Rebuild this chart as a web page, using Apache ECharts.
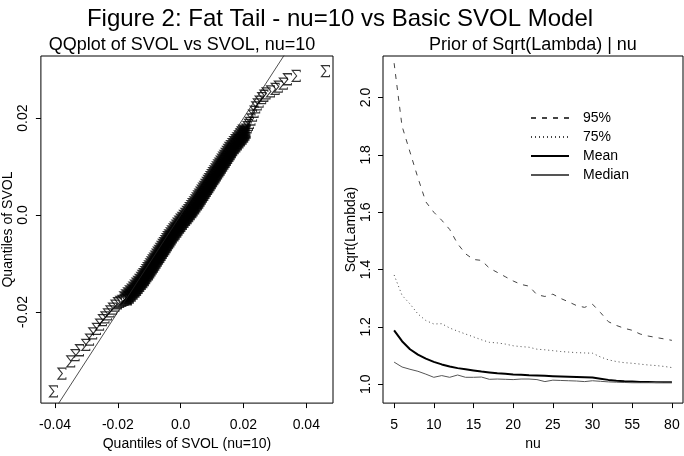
<!DOCTYPE html>
<html>
<head>
<meta charset="utf-8">
<script src="https://cdn.jsdelivr.net/npm/echarts@6/dist/echarts.min.js"></script>
<style>
html, body { margin: 0; padding: 0; background: #fff; }
#chart { width: 684px; height: 456px; }
</style>
</head>
<body>
<div id="chart"></div>
<script>
// left panel: sorted quantiles, SVOL nu=10 (x) vs basic SVOL (y)
const qqX = [
    -0.0405, -0.0378, -0.0350, -0.0336, -0.0322, -0.0302, -0.0290, -0.0280, -0.0268, -0.0258,
    -0.0249, -0.0241, -0.0233, -0.0225, -0.0217, -0.0209, -0.0201, -0.0194, -0.0187, -0.0180,
    -0.0174, -0.0168, -0.0162, -0.0156, -0.0150, -0.0145, -0.0140, -0.0135, -0.0130, -0.0125,
    -0.0120, -0.0116, -0.0112, -0.0107, -0.0103, -0.0099, -0.0095, -0.0091, -0.0087, -0.0083,
    -0.0079, -0.0075, -0.0071, -0.0067, -0.0063, -0.0059, -0.0055, -0.0051, -0.0047, -0.0043,
    -0.0039, -0.0035, -0.0031, -0.0026, -0.0022, -0.0017, -0.0013, -0.0008, -0.0004, 0.0001,
    0.0006, 0.0011, 0.0016, 0.0021, 0.0026, 0.0031, 0.0035, 0.0040, 0.0044, 0.0049,
    0.0053, 0.0057, 0.0061, 0.0065, 0.0069, 0.0073, 0.0077, 0.0081, 0.0085, 0.0089,
    0.0093, 0.0097, 0.0101, 0.0105, 0.0109, 0.0113, 0.0117, 0.0121, 0.0125, 0.0129,
    0.0133, 0.0137, 0.0141, 0.0145, 0.0149, 0.0153, 0.0157, 0.0161, 0.0166, 0.0171,
    0.0176, 0.0181, 0.0186, 0.0191, 0.0196, 0.0200, 0.0204,
    0.0208, 0.0212, 0.0216, 0.0219, 0.0224, 0.0229, 0.0234, 0.0239, 0.0244, 0.0250,
    0.0258, 0.0265, 0.0272, 0.0286, 0.0301, 0.0311, 0.0327, 0.0340, 0.0368, 0.0461
];
const qqY = [
    -0.0364, -0.0327, -0.0302, -0.0289, -0.0279, -0.0268, -0.0257, -0.0244, -0.0235, -0.0226,
    -0.0217, -0.0211, -0.0205, -0.0199, -0.0193, -0.0187, -0.0182, -0.0179, -0.0177, -0.0175,
    -0.0172, -0.0168, -0.0164, -0.0160, -0.0156, -0.0152, -0.0148, -0.0144, -0.0140, -0.0136,
    -0.0132, -0.0128, -0.0124, -0.0120, -0.0116, -0.0112, -0.0108, -0.0104, -0.0100, -0.0096,
    -0.0092, -0.0088, -0.0084, -0.0080, -0.0076, -0.0072, -0.0068, -0.0064, -0.0060, -0.0056,
    -0.0052, -0.0048, -0.0044, -0.0040, -0.0036, -0.0032, -0.0028, -0.0024, -0.0020, -0.0016,
    -0.0012, -0.0008, -0.0004, 0.0000, 0.0004, 0.0008, 0.0012, 0.0016, 0.0020, 0.0024,
    0.0028, 0.0032, 0.0036, 0.0040, 0.0044, 0.0048, 0.0052, 0.0056, 0.0060, 0.0064,
    0.0068, 0.0072, 0.0076, 0.0080, 0.0084, 0.0088, 0.0092, 0.0096, 0.0100, 0.0104,
    0.0108, 0.0112, 0.0116, 0.0120, 0.0124, 0.0128, 0.0132, 0.0136, 0.0140, 0.0144,
    0.0148, 0.0152, 0.0156, 0.0160, 0.0164, 0.0168, 0.0172,
    0.0176, 0.0181, 0.0186, 0.0190, 0.0197, 0.0205, 0.0213, 0.0222, 0.0228, 0.0234,
    0.0241, 0.0246, 0.0251, 0.0255, 0.0260, 0.0265, 0.0271, 0.0280, 0.0287, 0.0297
];
// how many points at each end are drawn as loose tail glyphs
const tailCount = 20;
// 45 degree reference line (y = x)
const qqLine = [[-0.05, -0.05], [0.05, 0.05]];
const qqTicks = [-0.04, -0.02, 0, 0.02, 0.04];
const qqYTicks = [-0.02, 0, 0.02];

// right panel: prior of sqrt(lambda) given nu
const nuValues = [5, 6, 7, 8, 9, 10, 11, 12, 13, 14, 15, 16, 17, 18, 19, 20, 21, 22, 23, 24, 25,
    26, 27, 28, 29, 30, 35, 40, 45, 50, 55, 60, 65, 70, 75, 80];
const q95 = [2.12, 1.90, 1.81, 1.72, 1.636, 1.60, 1.572, 1.54, 1.49, 1.455, 1.435, 1.432, 1.405, 1.39,
    1.375, 1.36, 1.348, 1.342, 1.312, 1.306, 1.314, 1.299, 1.287, 1.274, 1.268, 1.279, 1.25, 1.218,
    1.205, 1.195, 1.188, 1.175, 1.168, 1.163, 1.158, 1.153];
const q75 = [1.381, 1.31, 1.28, 1.245, 1.222, 1.21, 1.211, 1.196, 1.185, 1.175, 1.165, 1.155, 1.146,
    1.144, 1.14, 1.134, 1.131, 1.129, 1.122, 1.12, 1.117, 1.114, 1.112, 1.110, 1.109, 1.108, 1.095,
    1.085, 1.079, 1.075, 1.073, 1.07, 1.067, 1.065, 1.062, 1.058];
const meanVals = [1.188, 1.15, 1.122, 1.103, 1.089, 1.078, 1.069, 1.062, 1.056, 1.052, 1.048, 1.044,
    1.041, 1.038, 1.036, 1.034, 1.033, 1.031, 1.03, 1.029, 1.028, 1.027, 1.026, 1.025, 1.024, 1.023,
    1.019, 1.015, 1.012, 1.010, 1.009, 1.008, 1.008, 1.007, 1.007, 1.007];
const medianVals = [1.077, 1.06, 1.052, 1.045, 1.035, 1.024, 1.03, 1.024, 1.032, 1.024, 1.024, 1.025,
    1.017, 1.018, 1.017, 1.016, 1.018, 1.018, 1.016, 1.009, 1.014, 1.013, 1.012, 1.011, 1.009, 1.012,
    1.01, 1.008, 1.007, 1.006, 1.005, 1.005, 1.005, 1.006, 1.007, 1.007];
const nuTickIdx = [0, 5, 10, 15, 20, 25, 30, 35];
const lamTicks = [1.0, 1.2, 1.4, 1.6, 1.8, 2.0];

const FONT = 'Liberation Sans, Arial, sans-serif';
const sigmaPath = 'path://M8,1.6 L8,0 L0,0 L4.4,5 L0,10 L8,10 L8,8.4';

const chart = echarts.init(document.getElementById('chart'));

const fmtQ = v => (Math.abs(v) < 1e-9 ? '0.0' : v.toFixed(2));
const idxData = arr => arr.map((v, i) => [i, v]);
const qqPairs = qqX.map((x, i) => [x, qqY[i]]);
const qqTails = qqPairs.slice(0, tailCount).concat(qqPairs.slice(qqPairs.length - tailCount));
const qqBody = qqPairs.slice(tailCount, qqPairs.length - tailCount);

const axisBase = {
    axisLine: { show: false, onZero: false },
    splitLine: { show: false },
    nameTextStyle: { fontSize: 14, color: '#000', fontFamily: FONT },
    nameLocation: 'middle'
};
const tick = vals => ({ show: true, length: 5, customValues: vals, lineStyle: { color: '#000' } });

let option = {
    animation: false,
    textStyle: { fontFamily: FONT },
    title: [
        {
            text: 'Figure 2: Fat Tail - nu=10 vs Basic SVOL Model',
            left: 340, top: 7, textAlign: 'center', padding: 0,
            textStyle: { fontSize: 24, fontWeight: 'normal', color: '#000', fontFamily: FONT }
        },
        {
            text: 'QQplot of SVOL vs SVOL, nu=10',
            left: 182, top: 36, textAlign: 'center', padding: 0,
            textStyle: { fontSize: 18, fontWeight: 'normal', color: '#000', fontFamily: FONT }
        },
        {
            text: 'Prior of Sqrt(Lambda) | nu',
            left: 533, top: 36, textAlign: 'center', padding: 0,
            textStyle: { fontSize: 18, fontWeight: 'normal', color: '#000', fontFamily: FONT }
        }
    ],
    legend: {
        data: ['95%', '75%', 'Mean', 'Median'],
        orient: 'vertical',
        left: 525, top: 106,
        itemWidth: 38, itemHeight: 14, itemGap: 5,
        selectedMode: false,
        itemStyle: { opacity: 0 },
        textStyle: { fontSize: 14, color: '#000', padding: [0, 0, 0, 9] }
    },
    grid: [
        { left: 32, top: 56, width: 301, height: 356, show: true, borderColor: '#000', borderWidth: 1 },
        { left: 383, top: 56, width: 300, height: 356, show: true, borderColor: '#000', borderWidth: 1 }
    ],
    xAxis: [
        Object.assign({}, axisBase, {
            gridIndex: 0, type: 'value', min: -0.0445, max: 0.0485,
            name: 'Quantiles of SVOL (nu=10)', nameGap: 23,
            axisTick: tick(qqTicks),
            axisLabel: { customValues: qqTicks, formatter: fmtQ, fontSize: 14, color: '#000', margin: 15 }
        }),
        Object.assign({}, axisBase, {
            gridIndex: 1, type: 'value', min: -1.4, max: 36.4,
            name: 'nu', nameGap: 23,
            axisTick: tick(nuTickIdx),
            axisLabel: { customValues: nuTickIdx, formatter: v => String(nuValues[Math.round(v)]), fontSize: 14, color: '#000', margin: 15 }
        })
    ],
    yAxis: [
        Object.assign({}, axisBase, {
            gridIndex: 0, type: 'value', min: -0.0388, max: 0.0328,
            name: 'Quantiles of SVOL', nameGap: 20,
            axisTick: tick(qqYTicks),
            axisLabel: { customValues: qqYTicks, formatter: fmtQ, fontSize: 14, color: '#000', rotate: 90, margin: 11 }
        }),
        Object.assign({}, axisBase, {
            gridIndex: 1, type: 'value', min: 0.934, max: 2.145,
            name: 'Sqrt(Lambda)', nameGap: 24,
            axisTick: tick(lamTicks),
            axisLabel: { customValues: lamTicks, formatter: v => v.toFixed(1), fontSize: 14, color: '#000', rotate: 90, margin: 10 }
        })
    ],
    series: [
        {
            type: 'line', xAxisIndex: 0, yAxisIndex: 0, data: qqLine,
            symbol: 'none', silent: true,
            lineStyle: { color: '#222', width: 0.8 }
        },
        {
            type: 'scatter', xAxisIndex: 0, yAxisIndex: 0, data: qqTails,
            symbol: sigmaPath, symbolSize: [8, 11], silent: true,
            itemStyle: { color: 'rgba(0,0,0,0)', borderColor: '#000', borderWidth: 1.1 }
        },
        {
            type: 'scatter', xAxisIndex: 0, yAxisIndex: 0, data: qqBody,
            symbol: sigmaPath, symbolSize: [10, 12], silent: true,
            itemStyle: { color: '#000', borderColor: '#000', borderWidth: 2.2 }
        },
        {
            name: '95%', type: 'line', xAxisIndex: 1, yAxisIndex: 1, data: idxData(q95),
            symbol: 'none', silent: true, itemStyle: { color: '#444' },
            lineStyle: { color: '#444', width: 1, type: [5, 6] }
        },
        {
            name: '75%', type: 'line', xAxisIndex: 1, yAxisIndex: 1, data: idxData(q75),
            symbol: 'none', silent: true, itemStyle: { color: '#444' },
            lineStyle: { color: '#444', width: 1, type: [1, 3] }
        },
        {
            name: 'Mean', type: 'line', xAxisIndex: 1, yAxisIndex: 1, data: idxData(meanVals),
            symbol: 'none', silent: true, itemStyle: { color: '#000' },
            lineStyle: { color: '#000', width: 2 }
        },
        {
            name: 'Median', type: 'line', xAxisIndex: 1, yAxisIndex: 1, data: idxData(medianVals),
            symbol: 'none', silent: true, itemStyle: { color: '#555' },
            lineStyle: { color: '#555', width: 1 }
        }
    ]
};

chart.setOption(option);
</script>
</body>
</html>
